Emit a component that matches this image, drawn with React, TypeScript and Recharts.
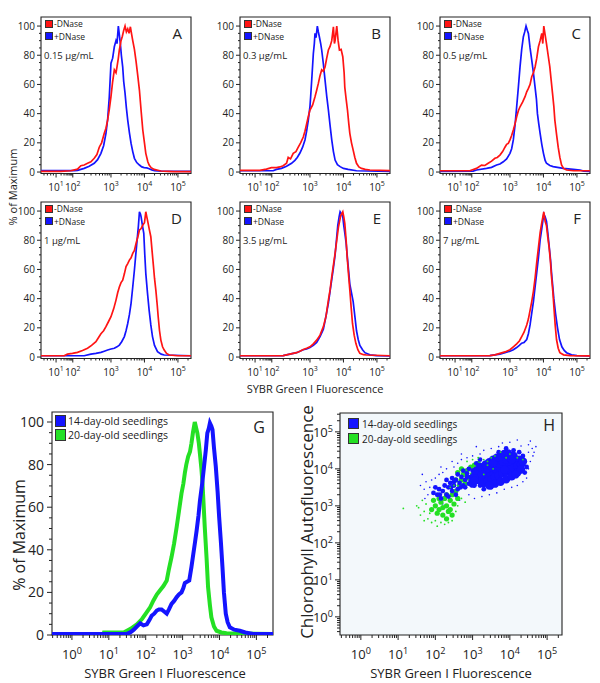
import { LineChart, Line, XAxis, YAxis, ReferenceArea, ScatterChart, Scatter } from 'recharts'

const FONT = '"Open Sans", "Noto Sans", sans-serif'
const INK = '#222'
const RED = '#ff1414'
const BLUE = '#1414ff'
const GREEN = '#24e024'

type Pt = [number, number]
type Major = { v: number; e: number }

// Panels A–F: x is the position on the biexponential axis, in decades (10^3 sits at 3),
// y is % of maximum.
const A_MINUS: Pt[] = [[0.91,0.4],[1.5,0.5],[1.8,0.9],[2.0,2],[2.1,4.3],[2.2,4.8],[2.3,6],[2.4,7],[2.5,9.4],[2.58,12],[2.65,17],[2.72,20],[2.8,26.5],[2.85,30],[2.9,35.6],[2.95,43],[3.0,51.6],[3.05,62],[3.1,70],[3.15,68],[3.18,72],[3.22,78],[3.25,83.6],[3.3,90],[3.34,93],[3.38,97],[3.42,100],[3.46,96],[3.5,98],[3.54,95],[3.58,99.5],[3.62,94],[3.65,90],[3.7,84],[3.75,75.6],[3.8,66],[3.85,56],[3.9,42],[3.95,28.8],[4.0,20],[4.04,12.8],[4.1,7],[4.14,4.8],[4.2,3],[4.29,1.8],[4.4,1.2],[4.49,0.7],[4.7,0.5],[4.88,0.3],[5.39,0.3]]
const A_PLUS: Pt[] = [[0.91,1],[1.5,1],[1.9,1],[2.0,1.2],[2.2,2.5],[2.35,4],[2.5,6],[2.6,8.5],[2.7,12.8],[2.78,18],[2.85,26.5],[2.9,36],[2.95,51.6],[3.0,74.5],[3.05,78],[3.1,85.8],[3.15,90],[3.18,88],[3.22,100],[3.25,94],[3.28,88],[3.31,80],[3.35,72],[3.38,62],[3.42,54],[3.46,44],[3.5,35.6],[3.55,27],[3.6,19.6],[3.65,14],[3.7,9.4],[3.77,6.5],[3.85,4.8],[3.92,3.5],[3.99,3],[4.07,2.8],[4.14,2.3],[4.22,1.5],[4.3,1],[4.5,0.6],[5.39,0.5]]

const B_MINUS: Pt[] = [[0.91,1.2],[1.5,1.2],[1.7,2],[1.85,3],[2.0,3],[2.1,3.5],[2.2,4.3],[2.3,6],[2.35,10],[2.42,9],[2.5,12.8],[2.58,14],[2.65,17],[2.72,20],[2.8,24],[2.85,28],[2.9,33],[2.95,38],[3.0,42.5],[3.08,46],[3.15,51.6],[3.2,56],[3.25,60.7],[3.3,66],[3.35,70],[3.4,69],[3.45,72],[3.5,78],[3.55,83.6],[3.6,86],[3.65,90],[3.7,99.5],[3.73,88],[3.75,90],[3.8,100],[3.84,90],[3.88,83.6],[3.93,84],[3.98,79],[4.02,68],[4.04,58],[4.08,50],[4.12,42.5],[4.16,33],[4.19,26.5],[4.24,20],[4.29,15],[4.34,10],[4.39,6],[4.46,3.5],[4.54,2.5],[4.65,1.8],[4.79,1.4],[5.39,1]]
const B_PLUS: Pt[] = [[0.91,0.9],[1.9,0.9],[2.0,1.8],[2.15,2.5],[2.3,4],[2.45,6],[2.55,8],[2.62,10],[2.7,13],[2.78,17],[2.85,22],[2.9,28],[2.95,35.6],[3.0,45],[3.02,51.6],[3.06,66],[3.1,81],[3.13,88],[3.15,95],[3.18,92],[3.22,100],[3.25,96],[3.28,92.7],[3.32,88],[3.35,83.6],[3.4,74],[3.45,63],[3.5,52],[3.55,42.5],[3.6,32],[3.65,22],[3.7,14],[3.75,8.2],[3.82,5],[3.9,3.7],[4.0,2.5],[4.14,1.8],[4.39,0.9],[5.39,0.5]]

const C_MINUS: Pt[] = [[0.91,0.9],[1.8,0.9],[2.0,2.5],[2.15,4.8],[2.25,4.5],[2.35,6],[2.45,7.5],[2.55,9.4],[2.62,10],[2.7,11.6],[2.78,14],[2.85,17],[2.9,19],[2.95,19.6],[3.0,22],[3.05,25],[3.1,28.8],[3.15,33],[3.2,37.9],[3.25,42],[3.3,44.7],[3.38,48],[3.45,51.6],[3.5,55],[3.55,57.3],[3.6,60],[3.65,65.3],[3.7,68],[3.75,72],[3.8,78],[3.85,85.8],[3.9,90],[3.95,95],[3.98,88],[4.01,100],[4.05,94],[4.09,88],[4.14,80],[4.19,72],[4.23,63],[4.27,54],[4.31,45],[4.34,35.6],[4.39,26],[4.44,17],[4.49,10],[4.54,4.8],[4.6,2.5],[4.69,1.4],[4.9,0.9],[5.39,0.9]]
const C_PLUS: Pt[] = [[0.91,0.5],[1.9,0.6],[2.0,1.4],[2.3,2.5],[2.45,3.2],[2.6,4.8],[2.7,5.5],[2.8,7],[2.9,9],[3.0,12.8],[3.05,16],[3.1,22],[3.15,32],[3.2,44.7],[3.25,58],[3.3,72],[3.35,84],[3.4,92.7],[3.44,96],[3.48,100],[3.52,97],[3.55,95],[3.6,85],[3.65,76.7],[3.7,68],[3.75,58],[3.79,50],[3.82,40],[3.86,33],[3.9,26.5],[3.95,19],[4.0,12.8],[4.05,8],[4.09,6],[4.19,4.5],[4.29,3.7],[4.59,2.5],[4.89,1.8],[5.09,1.4],[5.2,0.6],[5.39,0.5]]

const D_MINUS: Pt[] = [[0.91,0.9],[1.6,0.9],[1.7,2],[1.85,2.5],[2.0,3.2],[2.15,4.5],[2.3,6],[2.42,8],[2.55,10.5],[2.62,13],[2.7,16],[2.78,18],[2.85,20.8],[2.92,24],[3.0,27.6],[3.08,33],[3.15,39],[3.2,44],[3.25,48],[3.3,51],[3.35,52.7],[3.4,57],[3.45,61.9],[3.5,64],[3.55,66.4],[3.6,68],[3.65,71],[3.7,73],[3.75,77.9],[3.8,82],[3.85,87],[3.9,88],[3.95,90.4],[4.0,92],[4.04,99.5],[4.07,96],[4.09,93.8],[4.14,88],[4.19,82.4],[4.23,72],[4.27,61.9],[4.3,54],[4.34,45.9],[4.38,36],[4.41,27.6],[4.45,18],[4.49,11.6],[4.54,7],[4.59,4.8],[4.66,2.5],[4.74,1.4],[5.0,0.9],[5.39,0.9]]
const D_PLUS: Pt[] = [[0.91,0.9],[2.2,0.9],[2.4,2],[2.55,2.5],[2.7,3.2],[2.8,4],[2.9,4.8],[3.0,5.5],[3.1,6],[3.18,7],[3.25,8.2],[3.32,10.5],[3.4,14],[3.45,18],[3.5,23],[3.55,29],[3.6,36.8],[3.65,48],[3.7,59.6],[3.74,70],[3.78,80],[3.82,90],[3.85,99.5],[3.88,98],[3.9,96],[3.94,90],[3.98,84.7],[4.01,70],[4.04,57.3],[4.09,44],[4.14,32],[4.19,22],[4.24,14],[4.3,8],[4.39,3.7],[4.5,2],[4.59,1.4],[5.39,0.9]]

const E_MINUS: Pt[] = [[0.91,0.9],[2.0,0.9],[2.2,1],[2.4,2],[2.6,3],[2.7,4],[2.8,5.2],[2.9,6],[3.0,7],[3.1,9],[3.2,11.6],[3.3,15],[3.4,20.8],[3.48,28],[3.55,39],[3.6,46],[3.65,55],[3.7,63],[3.75,71],[3.8,80],[3.85,89],[3.92,97],[3.98,99.5],[4.01,96],[4.04,91.6],[4.08,80],[4.11,68.7],[4.15,57],[4.19,45.9],[4.23,34],[4.27,23],[4.32,15],[4.37,9.4],[4.43,5],[4.49,2.5],[4.6,1.6],[4.69,1.4],[5.39,0.9]]
const E_PLUS: Pt[] = [[0.91,0.9],[2.0,0.9],[2.2,1],[2.4,2],[2.6,3],[2.7,4],[2.8,5],[2.9,5.5],[3.0,6.5],[3.1,8],[3.2,10],[3.3,14],[3.4,19],[3.47,27],[3.55,37],[3.6,45],[3.65,53],[3.7,61],[3.75,70],[3.79,80],[3.83,90],[3.87,96],[3.9,99.5],[3.94,98],[3.98,96],[4.01,90],[4.04,85],[4.08,78],[4.11,70],[4.15,60],[4.19,50],[4.24,44],[4.29,38],[4.34,28],[4.39,18],[4.44,12],[4.49,8],[4.57,5],[4.64,3],[4.79,1.5],[4.99,1],[5.39,0.8]]

const F_MINUS: Pt[] = [[0.91,0.9],[2.2,0.9],[2.4,1],[2.55,1.5],[2.7,2.5],[2.85,3.5],[3.0,5],[3.1,7],[3.2,9],[3.28,11],[3.35,14],[3.42,17],[3.5,22],[3.55,26],[3.6,32],[3.65,38],[3.7,45],[3.75,54],[3.8,65],[3.85,75],[3.9,85],[3.95,92],[4.01,99.5],[4.05,93],[4.09,90],[4.13,82],[4.17,75],[4.21,65],[4.24,55],[4.28,45],[4.31,35],[4.35,22],[4.39,12],[4.44,6],[4.49,3],[4.6,1.5],[4.8,1],[5.39,0.8]]
const F_PLUS: Pt[] = [[0.91,0.9],[2.2,0.9],[2.4,1],[2.55,1.5],[2.7,2],[2.85,3],[3.0,4],[3.1,5],[3.2,6.5],[3.28,8],[3.35,9.5],[3.42,10],[3.5,12],[3.55,16],[3.6,22],[3.65,30],[3.7,38],[3.75,48],[3.8,58],[3.85,68],[3.9,80],[3.95,88],[4.01,98],[4.05,96],[4.09,93],[4.13,85],[4.17,76],[4.21,67],[4.24,58],[4.28,48],[4.31,40],[4.36,30],[4.42,20],[4.48,12],[4.55,7],[4.62,4.5],[4.69,3],[4.84,1.5],[5.0,1],[5.39,0.8]]

// Panel G: x is log10(fluorescence), y is % of maximum
const G_DAY14: Pt[] = [[-0.54,0.5],[1.49,0.5],[1.58,1.2],[1.67,2.4],[1.76,4],[1.85,5.5],[1.94,4.5],[2.03,5],[2.1,7],[2.16,9],[2.23,10],[2.3,11.5],[2.36,12],[2.43,12],[2.5,11],[2.57,10],[2.63,12],[2.7,14.6],[2.77,16],[2.84,17.8],[2.9,19],[2.97,20],[3.02,22],[3.06,24.4],[3.12,25],[3.18,25.6],[3.24,32],[3.29,38],[3.34,44],[3.38,49],[3.43,56],[3.47,63],[3.53,71],[3.58,79],[3.63,87],[3.67,94.8],[3.71,97],[3.74,99.5],[3.78,98],[3.81,96.4],[3.85,88],[3.9,79],[3.95,67],[3.99,55.5],[4.04,43],[4.08,32],[4.12,20],[4.17,10],[4.22,6],[4.28,3.6],[4.4,2.5],[4.55,2],[4.7,1.2],[4.91,0.5],[5.45,0.5]]
const G_DAY20: Pt[] = [[0.86,0.5],[0.87,1.2],[1.4,1.2],[1.49,2],[1.6,3],[1.76,5],[1.9,7.5],[2.03,10.7],[2.12,13],[2.21,16.2],[2.3,19],[2.39,21],[2.48,23],[2.57,25.6],[2.63,31],[2.7,36.6],[2.77,43],[2.84,50.8],[2.9,58],[2.97,66.5],[3.02,71],[3.06,76],[3.1,80],[3.15,83.8],[3.2,86],[3.24,90],[3.28,95],[3.33,100],[3.37,97],[3.4,94.8],[3.44,90],[3.47,85],[3.51,78],[3.54,71],[3.57,61],[3.6,50.8],[3.65,36],[3.69,22.5],[3.74,14],[3.78,8.3],[3.85,4],[3.92,2],[4.05,1.2],[4.19,0.8],[5.45,0.5]]

// Panel H: log10(SYBR) vs log10(chlorophyll) events, dense core and sparse halo
const H_BLUE_CORE: Pt[] = [[3.15,3.7],[3.25,3.75],[3.35,3.8],[3.45,3.85],[3.55,3.9],[3.65,3.95],[3.75,4.0],[3.85,4.05],[3.95,4.1],[4.05,4.15],[4.15,4.2],[4.25,4.25],[3.2,3.9],[3.3,3.95],[3.4,4.0],[3.5,4.05],[3.6,4.1],[3.7,4.15],[3.8,4.2],[3.9,4.25],[4.0,4.3],[4.1,4.35],[3.3,3.62],[3.4,3.68],[3.5,3.72],[3.6,3.78],[3.7,3.82],[3.8,3.88],[3.9,3.92],[4.0,3.98],[4.1,4.02],[4.2,4.08],[4.3,4.12],[3.45,4.18],[3.55,4.25],[3.65,4.3],[3.75,4.35],[3.85,4.4],[3.95,4.42],[3.6,3.6],[3.75,3.65],[3.9,3.72],[4.05,3.8],[4.2,3.9],[4.3,3.98],[3.05,3.8],[3.1,3.95],[3.0,3.6],[3.2,4.05],[3.35,4.12],[3.45,3.55],[4.15,3.85],[4.35,4.2],[3.05,3.68],[3.25,3.85],[3.55,4.15],[3.85,3.98],[4.05,4.25]]
const H_BLUE_MID: Pt[] = [[1.95,3.35],[2.05,3.3],[2.1,3.45],[2.2,3.4],[2.25,3.55],[2.3,3.3],[2.35,3.5],[2.4,3.62],[2.45,3.4],[2.5,3.55],[2.55,3.7],[2.6,3.45],[2.65,3.62],[2.7,3.78],[2.75,3.55],[2.8,3.7],[2.85,3.88],[2.9,3.6],[2.95,3.78],[3.0,3.95],[2.6,3.85],[2.45,3.75],[2.8,3.5],[3.05,3.55],[3.1,4.15],[2.9,4.0],[2.75,3.95],[2.55,3.3],[2.35,3.25],[2.15,3.2],[2.0,3.5],[2.3,3.7],[4.4,4.2],[4.35,4.35],[4.45,4.05],[4.1,4.5],[3.9,4.55],[3.5,3.5],[3.3,3.45],[4.4,3.9],[2.12,3.3],[2.42,3.5],[2.68,3.5],[2.95,3.68],[2.5,3.65],[2.85,3.78],[3.2,4.25],[3.7,4.45],[4.25,4.45],[3.2,3.55]]
const H_BLUE_HALO: Pt[] = [[1.6,3.55],[1.7,3.45],[1.75,3.65],[1.8,3.3],[1.85,3.5],[1.9,3.7],[1.72,3.2],[1.95,3.15],[2.0,3.75],[2.1,3.85],[2.2,3.9],[2.3,4.0],[2.5,4.05],[2.6,4.15],[2.7,4.25],[2.85,4.3],[3.0,4.35],[3.2,4.4],[3.3,4.5],[3.5,4.55],[3.7,4.6],[3.8,4.7],[4.0,4.72],[4.2,4.78],[4.3,4.62],[4.5,4.65],[4.55,4.75],[4.6,4.55],[4.5,4.45],[4.62,4.35],[4.55,4.2],[4.5,4.0],[4.45,3.75],[4.35,3.65],[4.2,3.55],[4.05,3.5],[3.85,3.45],[3.65,3.35],[3.45,3.3],[3.25,3.25],[3.05,3.2],[2.9,3.3],[2.65,3.15],[2.4,3.1],[2.2,3.05],[2.0,3.0],[2.7,4.4],[3.1,4.6],[2.45,4.2],[1.65,3.85],[2.15,4.05],[4.7,4.6],[4.65,4.45]]
const H_GREEN_CORE: Pt[] = [[2.0,3.0],[2.1,2.9],[2.15,3.1],[2.2,2.95],[2.25,3.2],[2.3,3.0],[2.35,2.85],[2.4,3.15],[2.45,3.3],[2.5,3.05],[2.55,3.4],[2.3,3.3],[2.1,3.2],[1.95,3.15],[2.2,2.75],[2.4,2.9],[2.6,3.2],[2.65,3.55],[2.7,3.7],[2.75,3.85],[2.8,3.6],[2.85,3.95],[2.9,3.75],[2.95,4.05],[3.0,3.85],[3.05,4.1],[3.1,3.9],[3.15,4.15],[3.2,4.0],[2.7,4.0],[2.6,3.9],[2.55,3.7],[2.05,2.8],[2.3,2.65],[2.45,2.75],[1.9,2.9]]
const H_GREEN_HALO: Pt[] = [[1.55,2.95],[1.6,2.75],[1.7,2.85],[1.75,3.05],[1.8,2.65],[1.85,2.8],[1.9,2.55],[2.0,2.6],[2.05,2.45],[2.15,2.55],[2.25,2.5],[2.35,2.55],[2.45,2.6],[2.55,2.85],[2.6,3.0],[2.7,3.2],[1.65,3.15],[1.5,3.0],[1.14,2.93],[3.3,4.25],[3.4,4.2],[3.5,4.3],[3.6,4.35],[3.75,4.45],[3.9,4.3],[4.0,4.4],[4.2,4.3],[4.35,4.25],[3.3,3.85],[3.4,4.1],[3.55,4.0],[2.5,3.55],[2.85,4.2],[3.0,4.25],[3.15,4.3],[2.4,3.5],[1.7,2.6],[2.8,3.1]]

// axis ticks
const SMALL_MAJORS: Major[] = [{ v: 1.36, e: 1 }, { v: 1.86, e: 2 }, { v: 3, e: 3 }, { v: 4, e: 4 }, { v: 5, e: 5 }]
const PCT_MAJORS = [0, 20, 40, 60, 80, 100]
const LOG_EXPONENTS = [0, 1, 2, 3, 4, 5]

const SMALL_X_DOMAIN: [number, number] = [0.91, 5.39]
const SMALL_Y_DOMAIN: [number, number] = [-1, 106.2]
const G_X_DOMAIN: [number, number] = [-0.54, 5.45]
const G_Y_DOMAIN: [number, number] = [0, 104.7]
const H_X_DOMAIN: [number, number] = [-0.56, 5.4]
const H_Y_DOMAIN: [number, number] = [-0.49, 5.51]

const LOG_K = [2, 3, 4, 5, 6, 7, 8, 9].map((k) => Math.log10(k))

// biexponential axis: compressed lower decades
const smallXTicks = (() => {
  const t: number[] = [1.0, 1.1, 1.2, 1.28]
  SMALL_MAJORS.forEach((m) => t.push(m.v))
  LOG_K.forEach((l) => t.push(1.36 + l * 0.5, 1.86 + l * 1.14, 3 + l, 4 + l, 5 + l))
  return t.filter((v) => v > SMALL_X_DOMAIN[0] && v < SMALL_X_DOMAIN[1]).sort((a, b) => a - b)
})()

const logTicks = (dom: [number, number]) => {
  const t: number[] = []
  for (let d = -1; d <= 5; d++) {
    t.push(d)
    LOG_K.forEach((l) => t.push(d + l))
  }
  return t.filter((v) => v > dom[0] && v < dom[1]).sort((a, b) => a - b)
}

const pctTicks: number[] = []
for (let v = 0; v <= 100; v += 5) pctTicks.push(v)

const rows = (pts: Pt[]) => pts.map(([x, y]) => ({ x, y }))
const isMajor = (majors: Major[], v: number) => majors.find((m) => Math.abs(m.v - v) < 1e-6)
const LOG_MAJORS: Major[] = LOG_EXPONENTS.map((e) => ({ v: e, e }))

function xTick(majors: Major[], fs: number, long: number, short: number, gap: number) {
  return (p: any) => {
    const m = isMajor(majors, p.payload.value)
    return (
      <g>
        <line x1={p.x} x2={p.x} y1={p.y} y2={p.y + (m ? long : short)} stroke={INK} strokeWidth={1} />
        {m && (
          <text x={p.x} y={p.y + gap} textAnchor="middle" fontFamily={FONT} fontSize={fs} fill={INK}>
            10
            <tspan dy={-fs * 0.42} fontSize={fs * 0.7}>
              {m.e}
            </tspan>
          </text>
        )}
      </g>
    )
  }
}

function pctTick(fs: number, long: number, short: number, gap: number) {
  return (p: any) => {
    const v = p.payload.value
    const major = PCT_MAJORS.includes(v)
    return (
      <g>
        <line x1={p.x - (major ? long : short)} x2={p.x} y1={p.y} y2={p.y} stroke={INK} strokeWidth={1} />
        {major && (
          <text x={p.x - gap} y={p.y + fs * 0.36} textAnchor="end" fontFamily={FONT} fontSize={fs} fill={INK}>
            {v}
          </text>
        )}
      </g>
    )
  }
}

function logYTick(fs: number, long: number, short: number, gap: number) {
  return (p: any) => {
    const m = isMajor(LOG_MAJORS, p.payload.value)
    return (
      <g>
        <line x1={p.x - (m ? long : short)} x2={p.x} y1={p.y} y2={p.y} stroke={INK} strokeWidth={1} />
        {m && (
          <text x={p.x - gap} y={p.y + fs * 0.4} textAnchor="end" fontFamily={FONT} fontSize={fs} fill={INK}>
            10
            <tspan dy={-fs * 0.42} fontSize={fs * 0.7}>
              {m.e}
            </tspan>
          </text>
        )}
      </g>
    )
  }
}

function Label({ x, y, size, children, rotate, anchor = 'start' }: any) {
  const tx = anchor === 'middle' ? '-50%' : anchor === 'end' ? '-100%' : '0'
  return (
    <div
      style={{
        position: 'absolute',
        left: x,
        top: y,
        transform: `translate(${tx}, -50%)${rotate ? ' rotate(-90deg)' : ''}`,
        fontFamily: FONT,
        fontSize: size,
        color: INK,
        whiteSpace: 'nowrap',
        lineHeight: 1,
      }}
    >
      {children}
    </div>
  )
}

function Swatch({ x, y, w, h, color }: any) {
  return (
    <div
      style={{
        position: 'absolute',
        left: x,
        top: y,
        width: w,
        height: h,
        background: color,
        border: '1px solid #333',
        boxSizing: 'border-box',
      }}
    />
  )
}

const SMALL_W = 150
const SMALL_H = 156.5

function SmallHist({ left, top, minus, plus, conc, letter }: { left: number; top: number; minus: Pt[]; plus: Pt[]; conc: string; letter: string }) {
  const yw = 34
  const xh = 26
  const pad = 4
  return (
    <>
      <div style={{ position: 'absolute', left: left - yw, top: top - pad }}>
        <LineChart
          width={SMALL_W + yw + pad}
          height={SMALL_H + pad + xh}
          margin={{ top: pad, right: pad, bottom: 0, left: 0 }}
          style={{ overflow: 'visible' }}
        >
          <XAxis
            type="number"
            dataKey="x"
            domain={SMALL_X_DOMAIN}
            ticks={smallXTicks}
            interval={0}
            height={xh}
            tickSize={0}
            tickMargin={0}
            axisLine={false}
            tickLine={false}
            allowDataOverflow
            tick={xTick(SMALL_MAJORS, 10, 4, 2, 17)}
          />
          <YAxis
            type="number"
            dataKey="y"
            domain={SMALL_Y_DOMAIN}
            ticks={pctTicks}
            interval={0}
            width={yw}
            tickSize={0}
            tickMargin={0}
            axisLine={false}
            tickLine={false}
            allowDataOverflow
            tick={pctTick(10, 4, 2, 6)}
          />
          <ReferenceArea
            x1={SMALL_X_DOMAIN[0]}
            x2={SMALL_X_DOMAIN[1]}
            y1={SMALL_Y_DOMAIN[0]}
            y2={SMALL_Y_DOMAIN[1]}
            fill="none"
            stroke={INK}
            strokeWidth={1.1}
          />
          <Line data={rows(plus)} dataKey="y" type="linear" stroke={BLUE} strokeWidth={1.7} dot={false} isAnimationActive={false} />
          <Line data={rows(minus)} dataKey="y" type="linear" stroke={RED} strokeWidth={1.7} dot={false} isAnimationActive={false} />
        </LineChart>
      </div>
      <Swatch x={left + 4} y={top + 3} w={8} h={8} color={RED} />
      <Label x={left + 13} y={top + 7} size={8.5}>-DNase</Label>
      <Swatch x={left + 4} y={top + 15} w={8} h={8} color={BLUE} />
      <Label x={left + 13} y={top + 19.5} size={8.5}>+DNase</Label>
      <Label x={left + 3} y={top + 39} size={9.5}>{conc}</Label>
      <Label x={left + 141} y={top + 16} size={15} anchor="end">{letter}</Label>
    </>
  )
}

function PanelG() {
  const x0 = 52
  const y0 = 412
  const w = 221
  const h = 223
  const yw = 48
  const xh = 30
  const pad = 4
  return (
    <>
      <div style={{ position: 'absolute', left: x0 - yw, top: y0 - pad }}>
        <LineChart width={w + yw + pad} height={h + pad + xh} margin={{ top: pad, right: pad, bottom: 0, left: 0 }} style={{ overflow: 'visible' }}>
          <XAxis
            type="number"
            dataKey="x"
            domain={G_X_DOMAIN}
            ticks={logTicks(G_X_DOMAIN)}
            interval={0}
            height={xh}
            tickSize={0}
            tickMargin={0}
            axisLine={false}
            tickLine={false}
            allowDataOverflow
            tick={xTick(LOG_MAJORS, 13, 5, 3, 24)}
          />
          <YAxis
            type="number"
            dataKey="y"
            domain={G_Y_DOMAIN}
            ticks={pctTicks}
            interval={0}
            width={yw}
            tickSize={0}
            tickMargin={0}
            axisLine={false}
            tickLine={false}
            allowDataOverflow
            tick={pctTick(14, 5, 3, 8)}
          />
          <ReferenceArea x1={G_X_DOMAIN[0]} x2={G_X_DOMAIN[1]} y1={G_Y_DOMAIN[0]} y2={G_Y_DOMAIN[1]} fill="none" stroke={INK} strokeWidth={1.1} />
          <Line data={rows(G_DAY20)} dataKey="y" type="linear" stroke={GREEN} strokeWidth={4} dot={false} isAnimationActive={false} />
          <Line data={rows(G_DAY14)} dataKey="y" type="linear" stroke={BLUE} strokeWidth={4} dot={false} isAnimationActive={false} />
        </LineChart>
      </div>
      <Swatch x={55} y={415} w={11} h={12} color={BLUE} />
      <Label x={68} y={421} size={10.5}>14-day-old seedlings</Label>
      <Swatch x={55} y={429} w={11} h={12} color={GREEN} />
      <Label x={68} y={435} size={10.5}>20-day-old seedlings</Label>
      <Label x={265} y={427} size={16} anchor="end">G</Label>
      <Label x={19} y={535} size={16} anchor="middle" rotate>% of Maximum</Label>
      <Label x={165} y={673} size={13} anchor="middle">SYBR Green I Fluorescence</Label>
    </>
  )
}

const dotShape = (r: number, color: string) => (p: any) => <circle cx={p.cx} cy={p.cy} r={r} fill={color} />

function PanelH() {
  const x0 = 340
  const y0 = 413
  const w = 222
  const h = 222
  const yw = 36
  const xh = 30
  const pad = 4
  return (
    <>
      <div style={{ position: 'absolute', left: x0 - yw, top: y0 - pad }}>
        <ScatterChart width={w + yw + pad} height={h + pad + xh} margin={{ top: pad, right: pad, bottom: 0, left: 0 }} style={{ overflow: 'visible' }}>
          <XAxis
            type="number"
            dataKey="x"
            domain={H_X_DOMAIN}
            ticks={logTicks(H_X_DOMAIN)}
            interval={0}
            height={xh}
            tickSize={0}
            tickMargin={0}
            axisLine={false}
            tickLine={false}
            allowDataOverflow
            tick={xTick(LOG_MAJORS, 13, 5, 3, 24)}
          />
          <YAxis
            type="number"
            dataKey="y"
            domain={H_Y_DOMAIN}
            ticks={logTicks(H_Y_DOMAIN)}
            interval={0}
            width={yw}
            tickSize={0}
            tickMargin={0}
            axisLine={false}
            tickLine={false}
            allowDataOverflow
            tick={logYTick(13, 5, 3, 7)}
          />
          <ReferenceArea x1={H_X_DOMAIN[0]} x2={H_X_DOMAIN[1]} y1={H_Y_DOMAIN[0]} y2={H_Y_DOMAIN[1]} fill="#f3f8fb" fillOpacity={1} stroke={INK} strokeWidth={1.1} />
          <Scatter data={rows(H_BLUE_HALO)} fill={BLUE} shape={dotShape(0.8, BLUE)} isAnimationActive={false} />
          <Scatter data={rows(H_GREEN_CORE)} fill={GREEN} shape={dotShape(2.6, GREEN)} isAnimationActive={false} />
          <Scatter data={rows(H_BLUE_MID)} fill={BLUE} shape={dotShape(2.4, BLUE)} isAnimationActive={false} />
          <Scatter data={rows(H_BLUE_CORE)} fill={BLUE} shape={dotShape(4.2, BLUE)} isAnimationActive={false} />
          <Scatter data={rows(H_GREEN_HALO)} fill={GREEN} shape={dotShape(0.9, GREEN)} isAnimationActive={false} />
        </ScatterChart>
      </div>
      <Swatch x={348} y={418} w={11} h={11} color={BLUE} />
      <Label x={362} y={424} size={10}>14-day-old seedlings</Label>
      <Swatch x={348} y={433} w={11} h={11} color={GREEN} />
      <Label x={362} y={439} size={10}>20-day-old seedlings</Label>
      <Label x={555} y={425} size={16} anchor="end">H</Label>
      <Label x={306} y={522} size={17} anchor="middle" rotate>Chlorophyll Autofluorescence</Label>
      <Label x={451} y={673} size={13} anchor="middle">SYBR Green I Fluorescence</Label>
    </>
  )
}

export default function App() {
  return (
    <div style={{ position: 'absolute', left: 0, top: 0, width: 600, height: 683, background: '#fff', overflow: 'hidden' }}>
      <SmallHist left={41} top={17} minus={A_MINUS} plus={A_PLUS} conc="0.15 µg/mL" letter="A" />
      <SmallHist left={240} top={17} minus={B_MINUS} plus={B_PLUS} conc="0.3 µg/mL" letter="B" />
      <SmallHist left={440} top={17} minus={C_MINUS} plus={C_PLUS} conc="0.5 µg/mL" letter="C" />
      <SmallHist left={41} top={202} minus={D_MINUS} plus={D_PLUS} conc="1 µg/mL" letter="D" />
      <SmallHist left={240} top={202} minus={E_MINUS} plus={E_PLUS} conc="3.5 µg/mL" letter="E" />
      <SmallHist left={440} top={202} minus={F_MINUS} plus={F_PLUS} conc="7 µg/mL" letter="F" />
      <Label x={12} y={187} size={11} anchor="middle" rotate>% of Maximum</Label>
      <Label x={315} y={388} size={11} anchor="middle">SYBR Green I Fluorescence</Label>
      <PanelG />
      <PanelH />
    </div>
  )
}
